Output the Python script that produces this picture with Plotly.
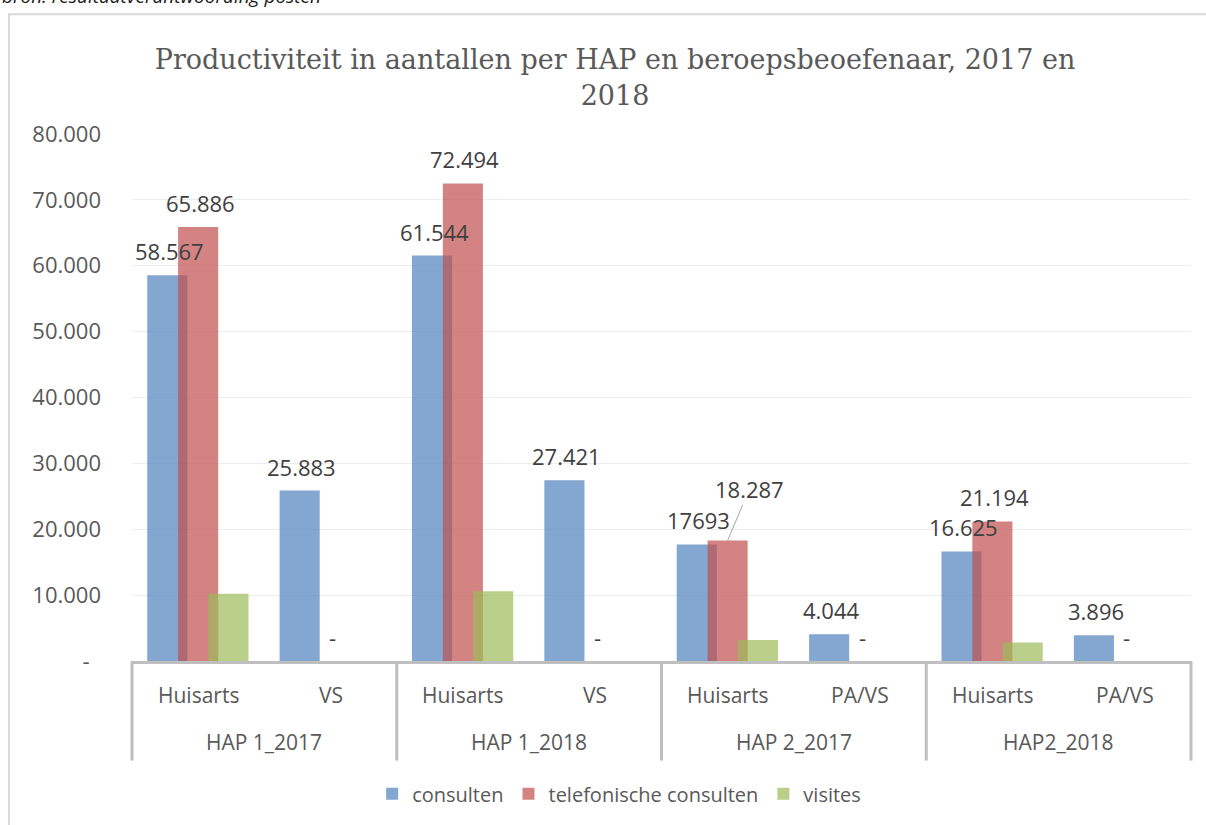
import plotly.graph_objects as go

# ---- data ----
groups = ["HAP 1_2017", "HAP 1_2018", "HAP 2_2017", "HAP2_2018"]
inner_labels = ["Huisarts", "VS", "Huisarts", "VS", "Huisarts", "PA/VS", "Huisarts", "PA/VS"]
outer_labels = ["HAP 1_2017", "HAP 1_2017", "HAP 1_2018", "HAP 1_2018",
                "HAP 2_2017", "HAP 2_2017", "HAP2_2018", "HAP2_2018"]

consulten = [58567, 25883, 61544, 27421, 17693, 4044, 16625, 3896]
telefonisch = [65886, 0, 72494, 0, 18287, 0, 21194, 0]
visites = [10200, 0, 10600, 0, 3200, 0, 2800, 0]

consulten_labels = ["58.567", "25.883", "61.544", "27.421", "17693", "4.044", "16.625", "3.896"]
telefonisch_labels = ["65.886", "-", "72.494", "-", "18.287", "-", "21.194", "-"]

series_names = ["consulten", "telefonische consulten", "visites"]

y_tickvals = [0, 10000, 20000, 30000, 40000, 50000, 60000, 70000, 80000]
y_ticktext = ["-\u00a0\u00a0", "10.000", "20.000", "30.000", "40.000", "50.000", "60.000", "70.000", "80.000"]

title_text = "Productiviteit in aantallen per HAP en beroepsbeoefenaar, 2017 en<br>2018"
source_text = "bron: resultaatverantwoording posten"

# ---- styling ----
colors = ["rgba(79,129,189,0.7)", "rgba(192,80,77,0.7)", "rgba(155,187,89,0.7)"]
bar_width = 0.303
bar_offsets = [-0.385, -0.152, 0.077]
TXT = "#595959"
LBL = "#404040"
FONT = "Open Sans"

keys = [f"{o} | {i}" for o, i in zip(outer_labels, inner_labels)]
n = len(keys)

fig = go.Figure()
for name, vals, col, off in zip(series_names, [consulten, telefonisch, visites], colors, bar_offsets):
    fig.add_trace(go.Bar(
        x=keys, y=vals, name=name, width=bar_width, offset=off,
        marker=dict(color=col, line=dict(width=0)),
        hoverinfo="x+y+name",
    ))

annotations = []
# data labels
for series_idx, labels, vals in [(0, consulten_labels, consulten), (1, telefonisch_labels, telefonisch)]:
    center = bar_offsets[series_idx] + bar_width / 2
    for i, (lab, v) in enumerate(zip(labels, vals)):
        if lab == "18.287":
            annotations.append(dict(
                x=i + center, y=v, xref="x", yref="y", text=lab,
                showarrow=True, ax=22, ay=-52, arrowhead=0, arrowwidth=1,
                arrowcolor="#A6A6A6", standoff=0,
                font=dict(family=FONT, size=22, color=LBL)))
        else:
            annotations.append(dict(
                x=i + center, y=v, xref="x", yref="y", text=lab,
                showarrow=False, yanchor="middle", yshift=24, xshift=2,
                font=dict(family=FONT, size=22, color=LBL)))

# category labels (inner row)
for i, lab in enumerate(inner_labels):
    annotations.append(dict(
        x=i, y=-0.064, xref="x", yref="paper", text=lab, showarrow=False,
        yanchor="middle", font=dict(family=FONT, size=21, color=TXT)))
# group labels (outer row)
per_group = n // len(groups)
for g, lab in enumerate(groups):
    annotations.append(dict(
        x=g * per_group + (per_group - 1) / 2, y=-0.154, xref="x", yref="paper",
        text=lab, showarrow=False, yanchor="middle",
        font=dict(family=FONT, size=21, color=TXT)))

# source caption (cut off at top)
annotations.append(dict(
    x=-0.1246, y=1.2326, xref="paper", yref="paper", xanchor="left", yanchor="bottom",
    text=source_text, showarrow=False,
    font=dict(family=FONT, size=19, color="#1a1a1a", style="italic")))

shapes = []
# group dividers
for b in range(len(groups) + 1):
    xp = b * per_group / n
    shapes.append(dict(type="line", xref="paper", yref="paper",
                       x0=xp, x1=xp, y0=0, y1=-0.189,
                       line=dict(color="#BFBFBF", width=3)))
# chart frame
shapes.append(dict(type="rect", xref="paper", yref="paper",
                   x0=-0.1161, x1=1.2, y0=-0.5, y1=1.227,
                   line=dict(color="#D9D9D9", width=2), fillcolor="rgba(0,0,0,0)", layer="below"))

fig.update_layout(
    width=1206, height=825,
    margin=dict(l=132, r=15, t=134, b=158),
    paper_bgcolor="white", plot_bgcolor="white",
    barmode="overlay",
    title=dict(text=title_text, x=0.51, xanchor="center", y=0.9158, yanchor="middle",
               font=dict(family="DejaVu Serif", size=27, color=TXT)),
    xaxis=dict(type="category", categoryorder="array", categoryarray=keys,
               range=[-0.5, n - 0.5], showticklabels=False, showgrid=False,
               showline=True, linecolor="#BFBFBF", linewidth=3, ticks="", zeroline=False),
    yaxis=dict(range=[0, 80000], tickvals=y_tickvals, ticktext=y_ticktext,
               showgrid=True, gridcolor="#EDEDED", gridwidth=1, zeroline=False,
               showline=False, ticks="", ticklabelstandoff=30,
               tickfont=dict(family=FONT, size=22, color=TXT)),
    legend=dict(orientation="h", x=0.46, xanchor="center", y=-0.252, yanchor="middle",
                font=dict(family=FONT, size=20, color=TXT), itemwidth=30,
                traceorder="normal"),
    annotations=annotations,
    shapes=shapes,
    showlegend=True,
)

fig.write_html("out.html", config={"displayModeBar": False},
               post_script="document.body.style.margin='0';")
